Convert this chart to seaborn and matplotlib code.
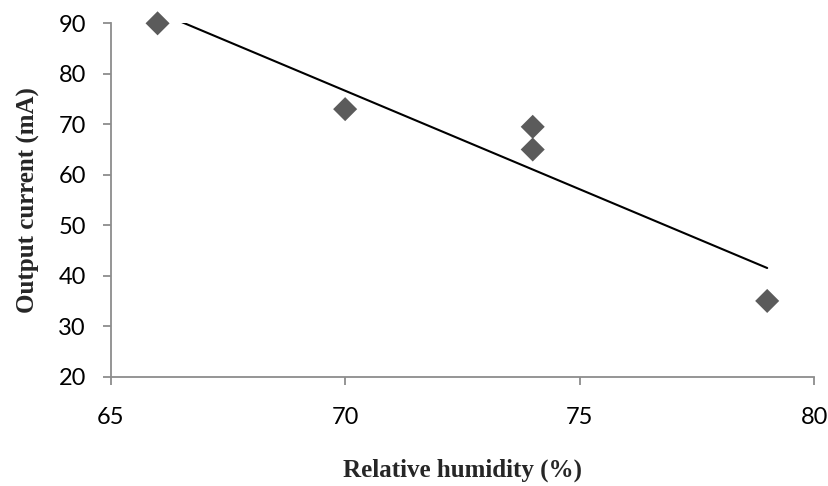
import numpy as np
import pandas as pd
import matplotlib
matplotlib.use("Agg")
import matplotlib.pyplot as plt
import seaborn as sns

humidity = [66, 70, 74, 74, 79]
current = [90, 73, 69.5, 65, 35]
x_ticks = [65, 70, 75, 80]
y_ticks = [20, 30, 40, 50, 60, 70, 80, 90]

df = pd.DataFrame({"humidity": humidity, "current": current})

sns.set_style("white")
plt.rcParams["font.family"] = ["Lato", "DejaVu Sans"]

fig = plt.figure(figsize=(8.29, 4.86), dpi=100)
ax = fig.add_axes([0.1335, 0.225, 0.982 - 0.1335, 0.952 - 0.225])

sns.regplot(data=df, x="humidity", y="current", ax=ax, ci=None, marker="D",
            scatter_kws={"s": 150, "color": "#5b5b5b", "clip_on": False,
                         "edgecolors": "none", "zorder": 3, "alpha": 1},
            line_kws={"color": "black", "linewidth": 1.5, "zorder": 2})

ax.set_xlim(65, 80)
ax.set_ylim(20, 90)
ax.set_xticks(x_ticks)
ax.set_yticks(y_ticks)
ax.tick_params(axis="both", direction="out", length=5.8, width=1.3,
               color="#8c8c8c", labelsize=17, labelcolor="black",
               bottom=True, left=True)
ax.tick_params(axis="y", pad=12)
ax.tick_params(axis="x", pad=16)
for s in ["top", "right"]:
    ax.spines[s].set_visible(False)
for s in ["left", "bottom"]:
    ax.spines[s].set_color("#8c8c8c")
    ax.spines[s].set_linewidth(1.3)

ax.set_xlabel("Relative humidity (%)", fontfamily="Liberation Serif",
              fontweight="bold", fontsize=18, labelpad=22)
ax.set_ylabel("Output current (mA)", fontfamily="Liberation Serif",
              fontweight="bold", fontsize=18, labelpad=13)

fig.savefig("out.png", dpi=100)
